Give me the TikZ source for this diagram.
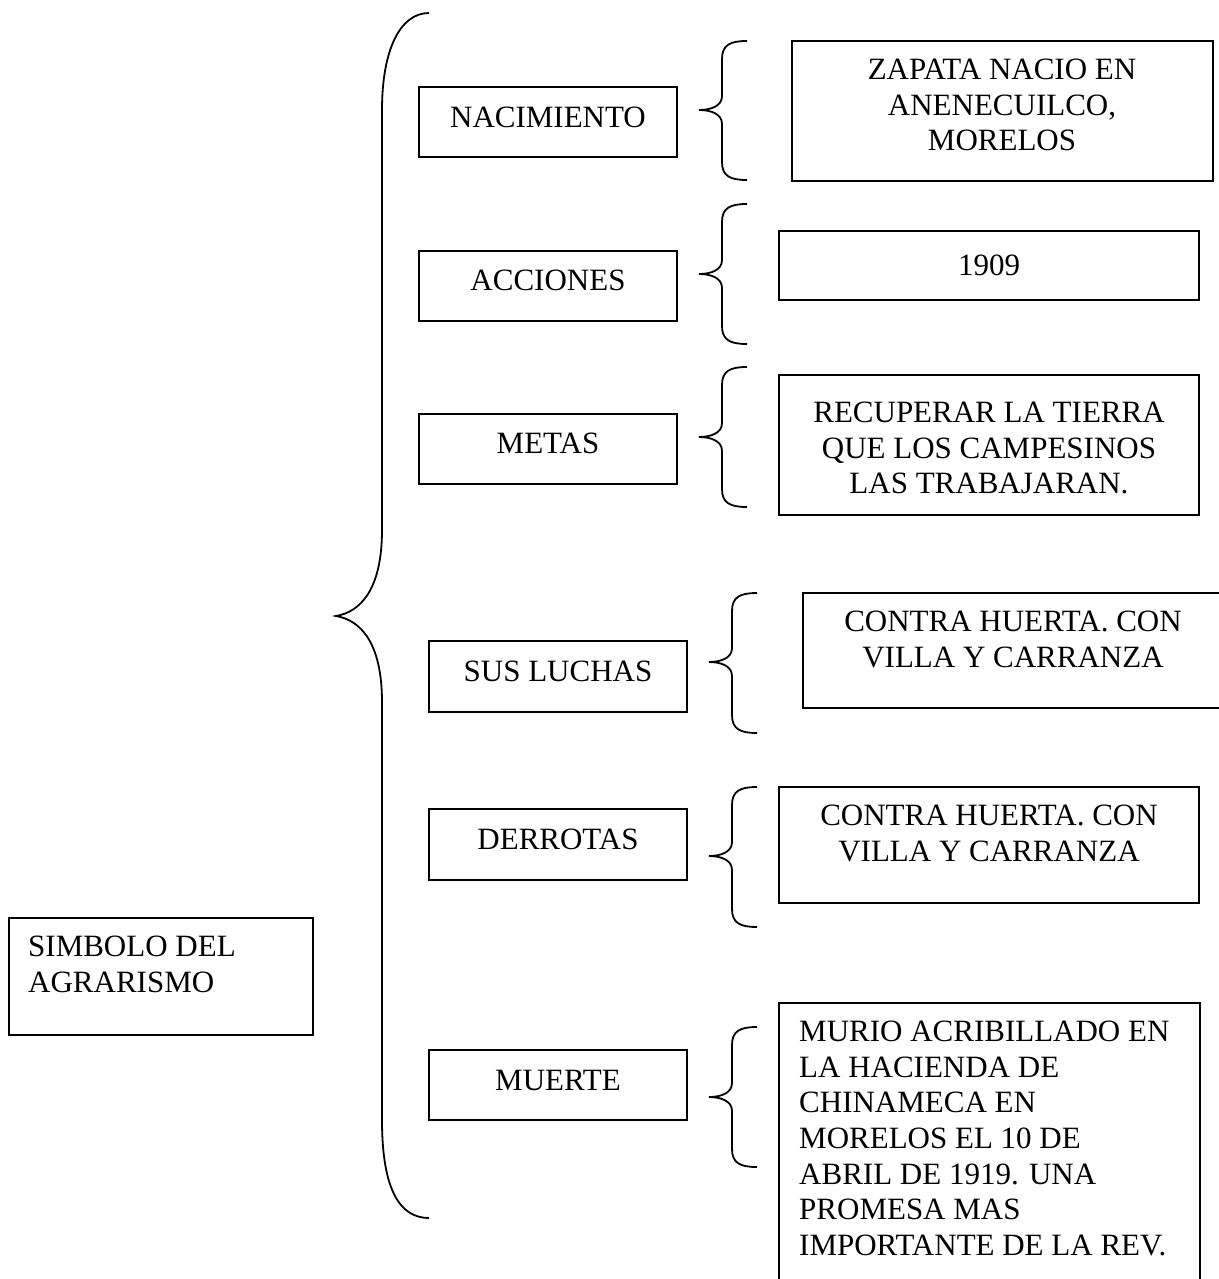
\documentclass[tikz,border=0pt]{standalone}
\usepackage{fontspec}
\setmainfont{Liberation Serif}
\tikzset{
  boxst/.style={draw, line width=1.8pt, inner sep=0pt, rectangle},
  txt/.style={inner sep=0pt, font=\fontsize{31}{35.6}\selectfont, align=center},
  txtl/.style={inner sep=0pt, font=\fontsize{31}{35.6}\selectfont, align=left},
  brc/.style={line width=1.8pt},
}
\newcommand\boxat[5]{\node[boxst, minimum width={(#4-#2)*1pt}, minimum height={(#5-#3)*1pt}] (#1) at ({(#2+#4)/2},{(#3+#5)/2}) {};}
\newcommand\mybrace[6]{\draw[brc] (#1,#4) .. controls ({#2+8},#4) and (#2,{#4+4}) .. (#2,{#4+18}) -- (#2,{#5-14}) .. controls (#2,{#5-4}) and ({#3+12},#5) .. (#3,#5) .. controls ({#3+12},#5) and (#2,{#5+4}) .. (#2,{#5+14}) -- (#2,{#6-18}) .. controls (#2,{#6-4}) and ({#2+8},#6) .. (#1,#6);}
\begin{document}
\begin{tikzpicture}[x=1pt,y=-1pt]
\useasboundingbox (0,0) rectangle (1218,1279);
% main brace
\draw[brc] (429,13) .. controls (400,13) and (382,50) .. (382,110) -- (382,530)
  .. controls (382,590) and (360,612) .. (336,616)
  .. controls (360,620) and (382,642) .. (382,702) -- (382,1120)
  .. controls (382,1190) and (400,1218) .. (429,1218);
% left box
\boxat{simb}{9}{918}{313}{1035}
\node[txtl, anchor=north west] (tsimb) at (28,936) {SIMBOLO DEL\\AGRARISMO};
% middle boxes
\boxat{nac}{419}{87}{677}{157}
\node[txt, anchor=north] (tnac) at (548,106.5) {NACIMIENTO};
\boxat{acc}{419}{251}{677}{321}
\node[txt, anchor=north] (tacc) at (548,270) {ACCIONES};
\boxat{met}{419}{414}{677}{484}
\node[txt, anchor=north] (tmet) at (548,433) {METAS};
\boxat{luc}{429}{641}{687}{712}
\node[txt, anchor=north] (tluc) at (558,661) {SUS LUCHAS};
\boxat{der}{429}{809}{687}{880}
\node[txt, anchor=north] (tder) at (558,829) {DERROTAS};
\boxat{mue}{429}{1050}{687}{1120}
\node[txt, anchor=north] (tmue) at (558,1069.5) {MUERTE};
% small braces
\mybrace{747}{722}{699}{41}{110}{180}
\mybrace{747}{722}{699}{204}{274}{344}
\mybrace{747}{722}{699}{367}{437}{507}
\mybrace{757}{732}{709}{593}{662}{733}
\mybrace{757}{732}{709}{787}{856}{927}
\mybrace{757}{732}{709}{1027}{1097}{1167}
% right boxes
\boxat{zap}{792}{41}{1213}{181}
\node[txt, anchor=north] (tzap) at (1002,59) {ZAPATA NACIO EN\\ANENECUILCO,\\MORELOS};
\boxat{anio}{779}{231}{1199}{300}
\node[txt, anchor=north] (tanio) at (989,255) {1909};
\boxat{rec}{779}{375}{1199}{515}
\node[txt, anchor=north] (trec) at (989,402) {RECUPERAR LA TIERRA\\QUE LOS CAMPESINOS\\LAS TRABAJARAN.};
\boxat{con}{803}{593}{1223}{708}
\node[txt, anchor=north] (tcon) at (1013,611) {CONTRA HUERTA. CON\\VILLA Y CARRANZA};
\boxat{conb}{779}{787}{1199}{903}
\node[txt, anchor=north] (tconb) at (989,805) {CONTRA HUERTA. CON\\VILLA Y CARRANZA};
\boxat{mur}{779}{1003}{1200}{1295}
\node[txtl, anchor=north west] (tmur) at (799,1021) {MURIO ACRIBILLADO EN\\LA HACIENDA DE\\CHINAMECA EN\\MORELOS EL 10 DE\\ABRIL DE 1919. UNA\\PROMESA MAS\\IMPORTANTE DE LA REV.};
\end{tikzpicture}
\end{document}
